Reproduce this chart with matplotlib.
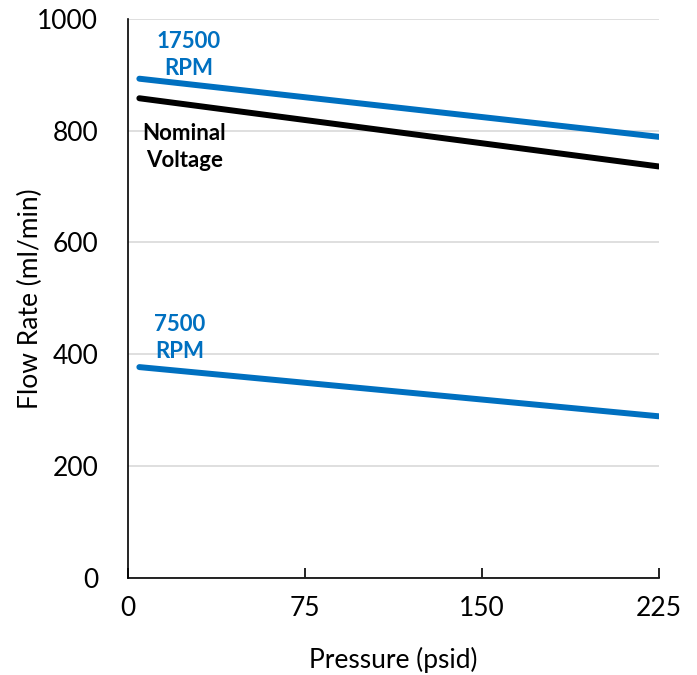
import matplotlib.pyplot as plt

plt.rcParams['font.family'] = ['Lato', 'DejaVu Sans']

# data
pressure = [5, 225]
rpm_17500 = [893, 789]
nominal = [858, 736]
rpm_7500 = [377, 289]

blue = '#0070C0'

fig = plt.figure(figsize=(6.97, 6.75), dpi=100)
ax = fig.add_axes([0.183, 0.144, 0.762, 0.828])

ax.plot(pressure, rpm_17500, color=blue, lw=4.3, solid_capstyle='round')
ax.plot(pressure, nominal, color='black', lw=4.3, solid_capstyle='round')
ax.plot(pressure, rpm_7500, color=blue, lw=4.3, solid_capstyle='round')

ax.text(26, 936, '17500\nRPM', color=blue, fontsize=16, fontweight='bold',
        ha='center', va='center', linespacing=1.35)
ax.text(24, 770, 'Nominal\nVoltage', color='black', fontsize=16, fontweight='bold',
        ha='center', va='center', linespacing=1.35)
ax.text(22, 429, '7500\nRPM', color=blue, fontsize=16, fontweight='bold',
        ha='center', va='center', linespacing=1.35)

ax.set_xlim(0, 225)
ax.set_ylim(0, 1000)
ax.set_xticks([0, 75, 150, 225])
ax.set_yticks([0, 200, 400, 600, 800, 1000])
ax.grid(axis='y', color='#d9d9d9', lw=1.2)
ax.set_axisbelow(True)

for s in ['top', 'right']:
    ax.spines[s].set_visible(False)
ax.spines['left'].set_color('black')
ax.spines['bottom'].set_color('black')
ax.spines['left'].set_linewidth(1.2)
ax.spines['bottom'].set_linewidth(1.2)

ax.tick_params(axis='x', direction='in', length=7, width=1.2, labelsize=19, pad=13)
ax.tick_params(axis='y', length=0, labelsize=19, pad=21)

ax.set_xlabel('Pressure (psid)', fontsize=19, labelpad=19)
ax.set_ylabel('Flow Rate (ml/min)', fontsize=19, va='center')
ax.yaxis.set_label_coords(-0.183, 0.5)

fig.savefig('out.png', dpi=100)
